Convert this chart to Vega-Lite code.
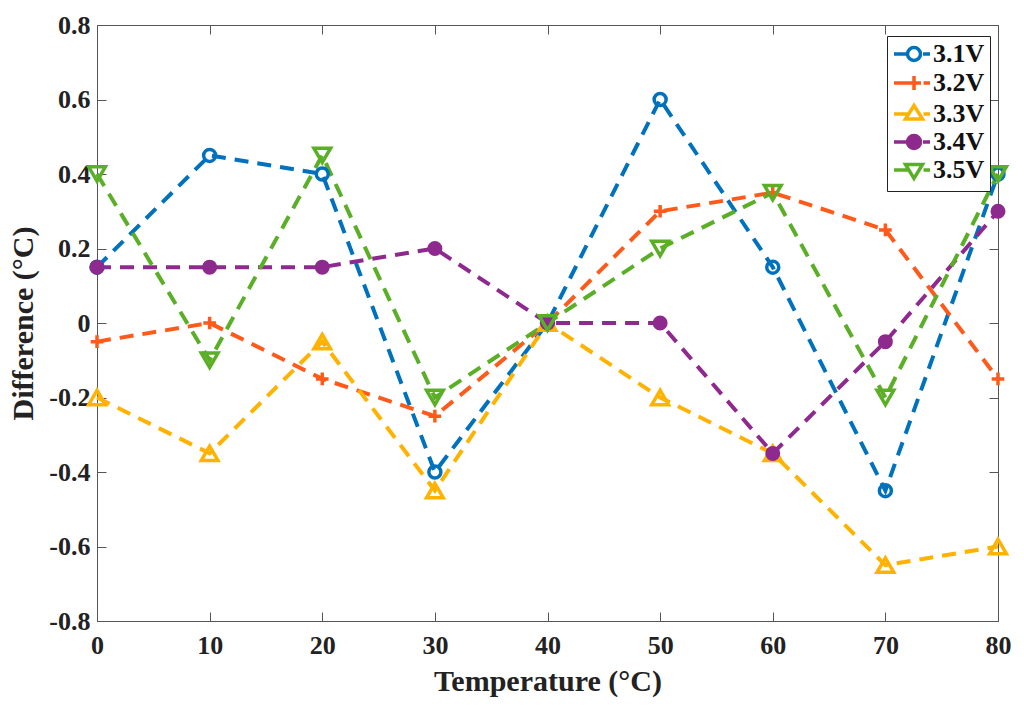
{
  "$schema": "https://vega.github.io/schema/vega-lite/v6.json",
  "width": 901,
  "height": 596,
  "autosize": {"type": "none"},
  "padding": {"left": 97, "top": 25, "right": 26, "bottom": 88},
  "background": "white",
  "config": {
    "view": {"stroke": "#555555", "strokeWidth": 1},
    "font": "Liberation Serif",
    "axis": {
      "grid": false,
      "domain": false,
      "tickColor": "#555555",
      "tickWidth": 1,
      "tickSize": -9,
      "labelFlush": false,
      "labelFont": "Liberation Serif",
      "labelFontWeight": "bold",
      "labelFontSize": 26,
      "labelColor": "#222222",
      "titleFont": "Liberation Serif",
      "titleFontWeight": "bold",
      "titleFontSize": 30,
      "titleColor": "#222222"
    }
  },
  "data": {
    "values": [
      {"t": 0, "v": 0.15, "s": "3.1V"}, {"t": 10, "v": 0.45, "s": "3.1V"}, {"t": 20, "v": 0.4, "s": "3.1V"},
      {"t": 30, "v": -0.4, "s": "3.1V"}, {"t": 40, "v": 0, "s": "3.1V"}, {"t": 50, "v": 0.6, "s": "3.1V"},
      {"t": 60, "v": 0.15, "s": "3.1V"}, {"t": 70, "v": -0.45, "s": "3.1V"}, {"t": 80, "v": 0.4, "s": "3.1V"},
      {"t": 0, "v": -0.05, "s": "3.2V"}, {"t": 10, "v": 0, "s": "3.2V"}, {"t": 20, "v": -0.15, "s": "3.2V"},
      {"t": 30, "v": -0.25, "s": "3.2V"}, {"t": 40, "v": 0, "s": "3.2V"}, {"t": 50, "v": 0.3, "s": "3.2V"},
      {"t": 60, "v": 0.35, "s": "3.2V"}, {"t": 70, "v": 0.25, "s": "3.2V"}, {"t": 80, "v": -0.15, "s": "3.2V"},
      {"t": 0, "v": -0.2, "s": "3.3V"}, {"t": 10, "v": -0.35, "s": "3.3V"}, {"t": 20, "v": -0.05, "s": "3.3V"},
      {"t": 30, "v": -0.45, "s": "3.3V"}, {"t": 40, "v": 0, "s": "3.3V"}, {"t": 50, "v": -0.2, "s": "3.3V"},
      {"t": 60, "v": -0.35, "s": "3.3V"}, {"t": 70, "v": -0.65, "s": "3.3V"}, {"t": 80, "v": -0.6, "s": "3.3V"},
      {"t": 0, "v": 0.15, "s": "3.4V"}, {"t": 10, "v": 0.15, "s": "3.4V"}, {"t": 20, "v": 0.15, "s": "3.4V"},
      {"t": 30, "v": 0.2, "s": "3.4V"}, {"t": 40, "v": 0, "s": "3.4V"}, {"t": 50, "v": 0, "s": "3.4V"},
      {"t": 60, "v": -0.35, "s": "3.4V"}, {"t": 70, "v": -0.05, "s": "3.4V"}, {"t": 80, "v": 0.3, "s": "3.4V"},
      {"t": 0, "v": 0.4, "s": "3.5V"}, {"t": 10, "v": -0.1, "s": "3.5V"}, {"t": 20, "v": 0.45, "s": "3.5V"},
      {"t": 30, "v": -0.2, "s": "3.5V"}, {"t": 40, "v": 0, "s": "3.5V"}, {"t": 50, "v": 0.2, "s": "3.5V"},
      {"t": 60, "v": 0.35, "s": "3.5V"}, {"t": 70, "v": -0.2, "s": "3.5V"}, {"t": 80, "v": 0.4, "s": "3.5V"}
    ]
  },
  "layer": [
    {
      "encoding": {
        "x": {
          "field": "t", "type": "quantitative",
          "scale": {"domain": [0, 80], "nice": false},
          "axis": {"orient": "bottom", "values": [0, 10, 20, 30, 40, 50, 60, 70, 80], "title": "Temperature (°C)", "labelPadding": 20, "titlePadding": 8}
        },
        "y": {
          "field": "v", "type": "quantitative",
          "scale": {"domain": [-0.8, 0.8], "nice": false},
          "axis": {
            "orient": "left",
            "values": [-0.8, -0.6, -0.4, -0.2, 0, 0.2, 0.4, 0.6, 0.8],
            "labelExpr": "datum.value == 0 ? '0' : (datum.value < 0 ? '-' + format(-datum.value, '.1f') : format(datum.value, '.1f'))",
            "title": "Difference (°C)", "labelPadding": 16, "titlePadding": 10
          }
        }
      },
      "layer": [
        {
          "mark": {"type": "line", "strokeWidth": 4, "strokeDash": [14, 9]},
          "encoding": {
            "color": {
              "field": "s", "type": "nominal",
              "scale": {"domain": ["3.1V", "3.2V", "3.3V", "3.4V", "3.5V"], "range": ["#0072BD", "#FF5A1A", "#FFB300", "#8E2A8E", "#5BAF27"]},
              "legend": {
                "orient": "none",
                "legendX": 790,
                "legendY": 11,
                "title": null,
                "strokeColor": "#222222",
                "fillColor": "white",
                "padding": 5,
                "labelFont": "Liberation Serif",
                "labelFontWeight": "bold",
                "labelFontSize": 26,
                "labelColor": "#111111",
                "symbolSize": 400,
                "symbolStrokeWidth": 3.5,
                "symbolOffset": 9,
                "labelOffset": 6,
                "rowPadding": 1,
                "encode": {
                  "symbols": {
                    "update": {
                      "shape": {"signal": "datum.value == '3.1V' ? 'M-2,0H-0.65M-0.65,0A0.65,0.65 0 1,0 0.65,0A0.65,0.65 0 1,0 -0.65,0M0.9,0H1.6' : datum.value == '3.2V' ? 'M-2,0H0.7M0,-0.7V0.7M0.95,0H1.6' : datum.value == '3.3V' ? 'M-2,0H-0.5M-0.85,0.5L0,-0.85L0.85,0.5ZM0.95,0H1.6' : datum.value == '3.4V' ? 'M-2,0H-0.65M-0.65,0A0.65,0.65 0 1,0 0.65,0A0.65,0.65 0 1,0 -0.65,0M0.9,0H1.6' : 'M-2,0H-0.5M-0.85,-0.55L0.85,-0.55L0,0.85ZM0.95,0H1.6'"},
                      "fill": {"signal": "datum.value == '3.4V' ? '#8E2A8E' : 'white'"},
                      "fillOpacity": {"value": 1},
                      "strokeDash": {"value": []},
                      "strokeWidth": {"value": 3.5}
                    }
                  }
                }
              }
            }
          }
        },
        {
          "transform": [{"filter": {"field": "s", "equal": "3.1V"}}],
          "mark": {"type": "point", "shape": "circle", "size": 144, "strokeWidth": 3.5, "stroke": "#0072BD", "fill": "transparent", "opacity": 1}
        },
        {
          "transform": [{"filter": {"field": "s", "equal": "3.2V"}}],
          "mark": {"type": "point", "shape": "M-1,0H1M0,-1V1", "size": 160, "strokeWidth": 3.5, "stroke": "#FF5A1A", "fill": "transparent", "opacity": 1}
        },
        {
          "transform": [{"filter": {"field": "s", "equal": "3.3V"}}],
          "mark": {"type": "point", "shape": "triangle-up", "size": 280, "strokeWidth": 3.5, "stroke": "#FFB300", "fill": "transparent", "opacity": 1}
        },
        {
          "transform": [{"filter": {"field": "s", "equal": "3.4V"}}],
          "mark": {"type": "point", "shape": "circle", "size": 144, "strokeWidth": 3, "stroke": "#8E2A8E", "fill": "#8E2A8E", "filled": true, "opacity": 1}
        },
        {
          "transform": [{"filter": {"field": "s", "equal": "3.5V"}}],
          "mark": {"type": "point", "shape": "triangle-down", "size": 280, "strokeWidth": 3.5, "stroke": "#5BAF27", "fill": "transparent", "opacity": 1}
        }
      ]
    },
    {
      "mark": {"type": "point", "opacity": 0},
      "encoding": {
        "x": {
          "field": "t", "type": "quantitative",
          "scale": {"domain": [0, 80], "nice": false},
          "axis": {"orient": "top", "values": [0, 10, 20, 30, 40, 50, 60, 70, 80], "labels": false, "title": null}
        },
        "y": {
          "field": "v", "type": "quantitative",
          "scale": {"domain": [-0.8, 0.8], "nice": false},
          "axis": {"orient": "right", "values": [-0.8, -0.6, -0.4, -0.2, 0, 0.2, 0.4, 0.6, 0.8], "labels": false, "title": null}
        }
      }
    }
  ],
  "resolve": {"scale": {"x": "independent", "y": "independent"}}
}
